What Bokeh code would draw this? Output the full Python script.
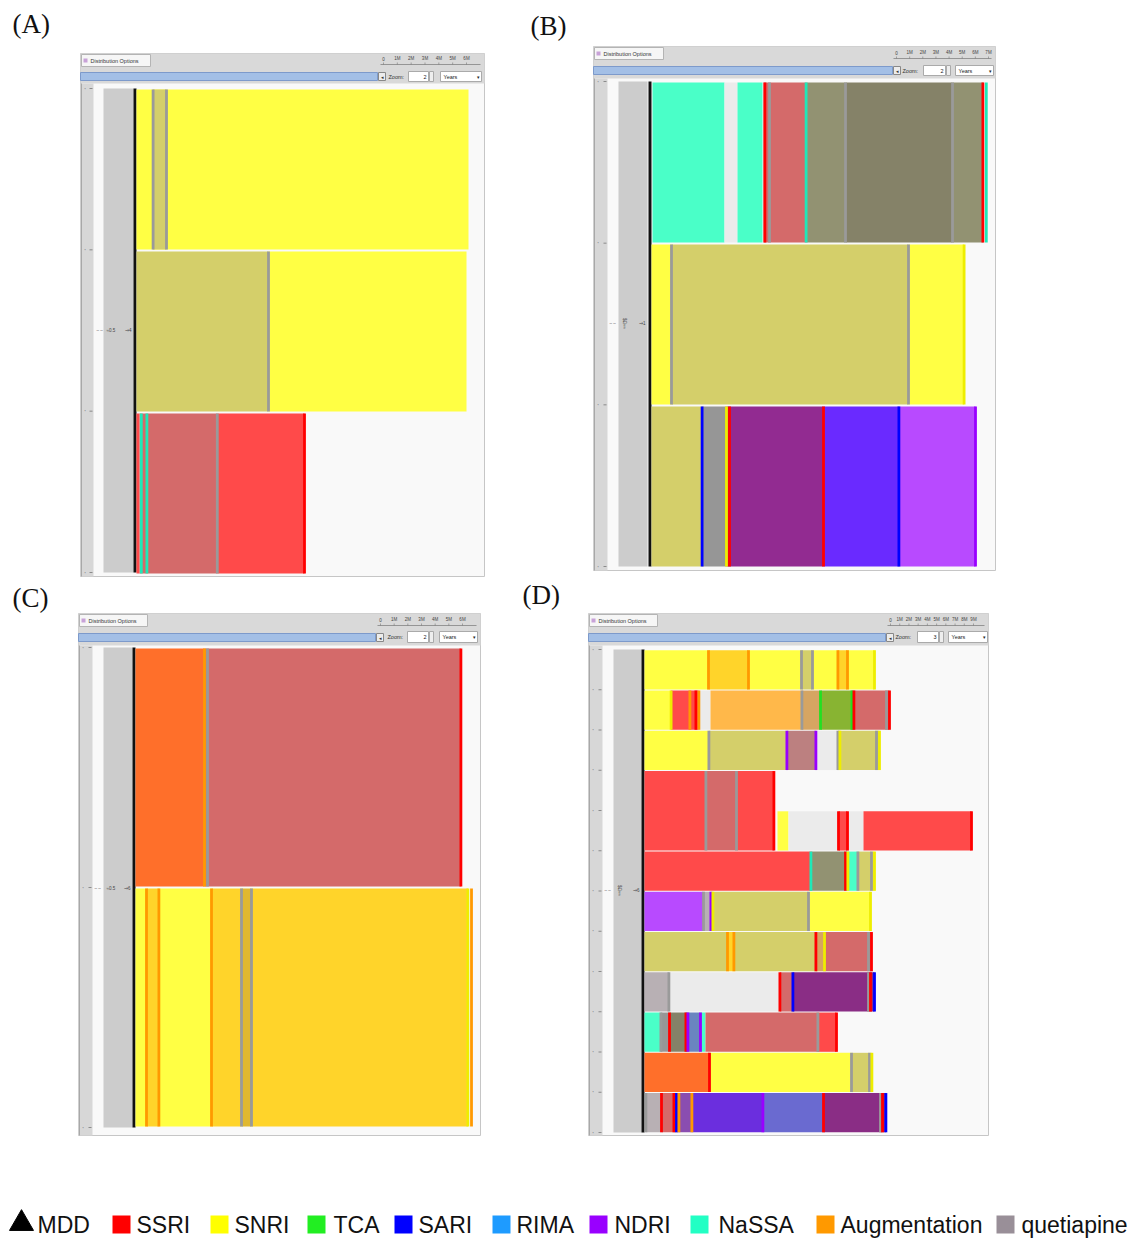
import math
from bokeh.plotting import figure
from bokeh.models import Range1d
from bokeh.layouts import column, row
from bokeh.core.properties import value
from bokeh.embed import file_html
from bokeh.resources import INLINE

# ---------------------------------------------------------------- data
# regimen -> fill colour of a treatment period
FILL = {
    "SSRI": "#ff4a4a", "SNRI": "#ffff44", "NaSSA": "#4affc8", "NDRI": "#b84aff",
    "Aug": "#ffb84a", "Q": "#b8b0b4", "none": "#ebebeb",
    "SNRI+Q": "#d4cf6a", "SSRI+Q": "#d46a6a", "NaSSA+Q": "#929272",
    "NaSSA+SSRI+Q": "#858268", "Q+other": "#969696", "SSRI+NDRI": "#922b91",
    "NDRI+SARI": "#6a2aff", "SSRI+Aug": "#ff6f2a", "SNRI+Aug": "#ffd42a",
    "SNRI+Aug+Q": "#e0b830", "Aug+Q": "#d6a562", "TCA+Aug": "#88b432",
    "SSRI+NDRI+Q": "#bc8080", "SARI+SSRI": "#8a2d85", "RIMA+Q": "#6a85c0",
    "NDRI+Q": "#8a4db0", "NDRI+SARI+Q": "#6b2ede", "SARI+Q": "#6a6ad0",
}
# drug class -> colour of switch / stop event marks
EDGE = {
    "SSRI": "#ff0000", "SNRI": "#eeee00", "TCA": "#22e022", "SARI": "#0000ff",
    "RIMA": "#1e9bff", "NDRI": "#9900ff", "NaSSA": "#1fe8b8", "Aug": "#ff9900",
    "Q": "#9a9a9a",
}

# segments: (row, start day, end day, regimen[, rows spanned])
A_SEG = [
    (0, 0, 166, "SNRI"), (0, 8.3, 15, "SNRI+Q"),
    (1, 0, 66, "SNRI+Q"), (1, 66, 165, "SNRI"),
    (2, 0, 1.5, "SSRI"), (2, 1.5, 40.4, "SSRI+Q"), (2, 40.4, 84, "SSRI"),
]
A_EVT = [  # (row, day, class)
    (0, 8.3, "Q"), (0, 15, "Q"), (1, 66, "Q"),
    (2, 2.4, "NaSSA"), (2, 5.2, "NaSSA"), (2, 40.4, "Q"), (2, 84, "SSRI"),
]

B_SEG = [
    (0, 0.5, 36.5, "NaSSA"), (0, 36.5, 43, "none"), (0, 43, 55.5, "NaSSA"),
    (0, 56, 77.3, "SSRI+Q"), (0, 77.3, 97, "NaSSA+Q"), (0, 97, 150.5, "NaSSA+SSRI+Q"),
    (0, 150.5, 166, "NaSSA+Q"),
    (1, 0, 10, "SNRI"), (1, 10, 128.5, "SNRI+Q"), (1, 128.5, 156.3, "SNRI"),
    (2, 0, 25.3, "SNRI+Q"), (2, 25.3, 37.5, "Q+other"), (2, 37.5, 86, "SSRI+NDRI"),
    (2, 86, 123.7, "NDRI+SARI"), (2, 123.7, 162, "NDRI"),
]
B_EVT = [
    (0, 56.7, "SSRI"), (0, 59, "Q"), (0, 77.3, "NaSSA"), (0, 97, "Q"), (0, 150.5, "Q"),
    (0, 165.7, "SSRI"), (0, 167.4, "NaSSA"),
    (1, 10, "Q"), (1, 128.5, "Q"), (1, 156.3, "SNRI"),
    (2, 25.3, "SARI"), (2, 37.5, "SNRI"), (2, 39, "SSRI"), (2, 86, "SSRI"),
    (2, 123.7, "SARI"), (2, 162, "NDRI"),
]

C_SEG = [
    (0, 0, 34.5, "SSRI+Aug"), (0, 34.5, 162.7, "SSRI+Q"),
    (1, 0, 5.5, "SNRI"), (1, 5.5, 11.7, "SNRI+Aug"), (1, 11.7, 38, "SNRI"),
    (1, 38, 53, "SNRI+Aug"), (1, 53, 58, "SNRI+Aug+Q"), (1, 58, 166.2, "SNRI+Aug"),
]
C_EVT = [
    (0, 34.5, "Aug"), (0, 36, "Q"), (0, 162.7, "SSRI"),
    (1, 5.5, "Aug"), (1, 11.7, "Aug"), (1, 38, "Aug"), (1, 53, "Q"), (1, 58, "Q"),
    (1, 166.2, "SNRI"), (1, 168, "Aug"),
]

D_SEG = [
    (0, 0, 32, "SNRI"), (0, 32, 52, "SNRI+Aug"), (0, 52, 78.5, "SNRI"),
    (0, 78.5, 84, "SNRI+Q"), (0, 84, 96.7, "SNRI"), (0, 96.7, 101.5, "SNRI+Aug"),
    (0, 101.5, 115, "SNRI"),
    (1, 0, 13.3, "SNRI"), (1, 13.3, 27, "SSRI"), (1, 27, 33, "none"),
    (1, 33, 78.7, "Aug"), (1, 78.7, 88, "Aug+Q"), (1, 88, 104, "TCA+Aug"),
    (1, 104, 122.5, "SSRI+Q"),
    (2, 0, 32.2, "SNRI"), (2, 32.2, 71.2, "SNRI+Q"), (2, 71.2, 85.7, "SSRI+NDRI+Q"),
    (2, 85.7, 96.7, "none"), (2, 96.7, 117.5, "SNRI+Q"),
    (3, 0, 30.7, "SSRI", 2), (3, 30.7, 46, "SSRI+Q", 2), (3, 46, 64.7, "SSRI", 2),
    (4, 66.5, 72, "SNRI"), (4, 72, 97, "none"), (4, 97, 101.5, "SSRI"),
    (4, 101.5, 109.5, "none"), (4, 109.5, 163.5, "SSRI"),
    (5, 0, 83.2, "SSRI"), (5, 83.2, 100.5, "NaSSA+Q"), (5, 100.5, 106.7, "NaSSA"),
    (5, 106.7, 113.5, "SNRI+Q"), (5, 113.5, 115, "SNRI"),
    (6, 0, 29.5, "NDRI"), (6, 29.5, 33.2, "Q"), (6, 33.2, 82, "SNRI+Q"), (6, 82, 113, "SNRI"),
    (7, 0, 41.5, "SNRI+Q"), (7, 41.5, 44.7, "SNRI+Aug"), (7, 44.7, 85.7, "SNRI+Q"),
    (7, 85.7, 90, "Aug+Q"), (7, 90, 113.5, "SSRI+Q"),
    (8, 0, 12.2, "Q"), (8, 12.2, 67.7, "none"), (8, 67.7, 74.2, "SSRI+Q"),
    (8, 74.2, 115, "SARI+SSRI"),
    (9, 0, 8.2, "NaSSA"), (9, 8.2, 12.5, "Q+other"), (9, 12.5, 20.7, "NaSSA+SSRI+Q"),
    (9, 20.7, 28, "RIMA+Q"), (9, 28, 30.5, "NaSSA"), (9, 30.5, 86.7, "SSRI+Q"),
    (9, 86.7, 96, "SSRI"),
    (10, 0, 32.5, "SSRI+Aug"), (10, 32.5, 103.5, "SNRI"), (10, 103.5, 112.5, "SNRI+Q"),
    (10, 112.5, 113.7, "SNRI"),
    (11, 0.5, 8.5, "Q"), (11, 8.5, 14.7, "SSRI+Q"), (11, 14.7, 23.7, "NDRI+Q"),
    (11, 23.7, 59.2, "NDRI+SARI+Q"), (11, 59.2, 89.5, "SARI+Q"), (11, 89.5, 120.7, "SARI+SSRI"),
]
D_EVT = [
    (0, 32, "Aug"), (0, 52, "Aug"), (0, 78.5, "Q"), (0, 84, "Q"), (0, 96.7, "Aug"),
    (0, 101.5, "Aug"), (0, 115, "SNRI"),
    (1, 13.3, "SNRI"), (1, 22.7, "Aug"), (1, 25.7, "SSRI"), (1, 27.2, "Aug"), (1, 78.7, "Q"),
    (1, 88, "TCA"), (1, 103.7, "TCA"), (1, 104.7, "SSRI"), (1, 121, "Q"), (1, 122.5, "SSRI"),
    (2, 32.2, "Q"), (2, 71.2, "NDRI"), (2, 85.7, "NDRI"), (2, 96.7, "Q"), (2, 97.7, "SNRI"),
    (2, 116, "Q"), (2, 117.5, "SNRI"),
    (3, 30.7, "Q", 2), (3, 46, "Q", 2), (3, 64.7, "SSRI", 2),
    (4, 97, "SSRI"), (4, 101.5, "SSRI"), (4, 163.5, "SSRI"),
    (5, 83.2, "NaSSA"), (5, 100.5, "SSRI"), (5, 101.7, "SNRI"), (5, 106.7, "Q"),
    (5, 113.5, "Q"), (5, 115, "SNRI"),
    (6, 29.5, "Q"), (6, 33.2, "NDRI"), (6, 34.2, "SNRI"), (6, 82, "Q"), (6, 113, "SNRI"),
    (7, 41.5, "Aug"), (7, 44.7, "Aug"), (7, 85.7, "SSRI"), (7, 90, "SNRI"), (7, 112, "Q"),
    (7, 113.5, "SSRI"),
    (8, 12.2, "Q"), (8, 67.7, "SSRI"), (8, 74.2, "SARI"), (8, 112, "Q"), (8, 113, "SSRI"),
    (8, 115, "SARI"),
    (9, 8.2, "Q"), (9, 12.5, "SSRI"), (9, 20.7, "SSRI"), (9, 21.7, "NDRI"), (9, 28, "NDRI"),
    (9, 86.7, "Q"), (9, 96, "SSRI"),
    (10, 32.5, "SSRI"), (10, 103.5, "Q"), (10, 112.5, "Q"), (10, 113.7, "SNRI"),
    (11, 0.7, "Q"), (11, 8.5, "SSRI"), (11, 14.7, "SSRI"), (11, 16, "SARI"), (11, 17.2, "Aug"),
    (11, 23.7, "Aug"), (11, 59.2, "NDRI"), (11, 89.5, "SSRI"), (11, 118, "Q"),
    (11, 119, "SSRI"), (11, 120.7, "SARI"),
]

PANEL_LETTERS = ["(A)", "(B)", "(C)", "(D)"]
ZOOM_VALUES = ["2", "2", "2", "3"]
RULER_MONTHS = [6, 7, 6, 9]
GROUP_LABELS = [("≈0.5", "⇒4"), ("$Ω≈≈", "⇒1"), ("≈0.5", "⇒6"), ("$Ω≈≈", "⇒6")]

LEGEND_NAMES = ["MDD", "SSRI", "SNRI", "TCA", "SARI", "RIMA", "NDRI", "NaSSA",
                "Augmentation", "quetiapine"]
LEGEND_COLORS = ["#000000", "#ff0000", "#ffff00", "#22ee22", "#0000ff", "#1e9bff",
                 "#9900ff", "#22ffc4", "#ff9900", "#998f98"]

# ---------------------------------------------------------------- layout (page pixels)
DAY_PX = 2.0
GEO = [
    dict(fig=(0, 0, 515, 578), frame=(80, 53, 484, 576), ctop=83, tab_r=150,
         ruler=(383, 466, 58, 64), bar=(72, 80, 377), zoom_x=388, ctl=(71, 81),
         spin=(408, 428), years=(440, 481), strip_r=93, col=(103, 133),
         rows=(88, 572), x0=136, y0=88, pitch=162, gap=1.0, letter=(12, 23),
         glabel_y=330, rotated=False),
    dict(fig=(515, 0, 617, 578), frame=(593, 46, 995, 570), ctop=78, tab_r=663,
         ruler=(896, 988, 52, 58), bar=(66, 74, 892), zoom_x=902, ctl=(65, 75),
         spin=(923, 945), years=(955, 993), strip_r=607, col=(618, 647),
         rows=(81, 566), x0=651, y0=81, pitch=162, gap=1.0, letter=(530, 25),
         glabel_y=323, rotated=True),
    dict(fig=(0, 578, 515, 567), frame=(78, 613, 480, 1135), ctop=645, tab_r=147,
         ruler=(380, 462, 619, 625), bar=(633, 641, 375), zoom_x=387, ctl=(631, 642),
         spin=(407, 428), years=(439, 477), strip_r=92, col=(103, 132),
         rows=(647, 1127), x0=135, y0=647, pitch=240, gap=1.0, letter=(12, 597),
         glabel_y=888, rotated=False),
    dict(fig=(515, 578, 617, 567), frame=(588, 613, 988, 1135), ctop=645, tab_r=657,
         ruler=(890, 973, 619, 625), bar=(633, 641, 885), zoom_x=895, ctl=(631, 642),
         spin=(917, 938), years=(948, 987), strip_r=602, col=(613, 641),
         rows=(649, 1132), x0=644, y0=649.3, pitch=40.25, gap=0.5, letter=(522, 594),
         glabel_y=890, rotated=True),
]
LEGEND_FIG = (0, 1145, 1132, 93)
LEGEND_MARK_X = [21, 121, 219, 316, 403, 501, 598, 699, 825, 1005]
LEGEND_TEXT_X = [37, 136, 234, 333, 418, 516, 614, 718, 840, 1021]
LEGEND_Y = 1224

SANS = "Liberation Sans"


def make_panel(i, segs, evts):
    g = GEO[i]
    fx, fy, W, H = g["fig"]
    X0, Y0, pitch = g["x0"], g["y0"], g["pitch"]

    def px(v):
        return (v - X0) / DAY_PX

    def py(v):
        return (v - Y0) / pitch

    p = figure(width=W, height=H, x_range=Range1d(px(fx), px(fx + W)),
               y_range=Range1d(py(fy + H), py(fy)), output_backend="svg",
               toolbar_location=None, x_axis_location=None, y_axis_location=None,
               min_border=0, outline_line_color=None, background_fill_color="white",
               border_fill_color="white")
    p.xgrid.visible = False
    p.ygrid.visible = False

    def box(l, t, r, b, fill, line=None, lw=1.0):
        p.quad(left=[px(l)], right=[px(r)], top=[py(t)], bottom=[py(b)],
               fill_color=fill, line_color=line, line_width=lw)

    def txt(x, y, s, size, color="#333333", align="left", font=SANS, angle=0.0):
        p.text(x=[px(x)], y=[py(y)], text=[s], text_font=value(font),
               text_font_size=f"{size}px", text_color=color, text_align=align,
               text_baseline="middle", angle=angle)

    L, T, R, B = g["frame"]
    # window chrome
    box(L, T, R, B, "#f9f9f9", "#c6c6c6")
    box(L, T, R, g["ctop"], "#d9d9d9", None)
    box(L + 1, T + 1, g["tab_r"], T + 13, "#f6f6f6", "#b4b4b4")
    box(L + 3, T + 5, L + 7, T + 9, "#c8a2d8", None)
    txt(L + 10, T + 7, "Distribution Options", 5.5)
    rl, rr, ry, rline = g["ruler"]
    n = RULER_MONTHS[i]
    for k in range(n + 1):
        xk = rl + (rr - rl) * k / n
        txt(xk, ry, "0" if k == 0 else f"{k}M", 4.5, "#444444", "center")
        p.segment(x0=[px(xk)], y0=[py(rline - 2)], x1=[px(xk)], y1=[py(rline)],
                  line_color="#777777", line_width=0.6)
    p.segment(x0=[px(rl - 3)], y0=[py(rline)], x1=[px(R - 4)], y1=[py(rline)],
              line_color="#777777", line_width=0.7)
    bt, bb, br = g["bar"]
    box(L, bt, br, bb, "#a3bfe6", "#7d9acb")
    box(br + 1, bt, br + 8, bb, "#ececec", "#888888")
    txt(br + 4.5, (bt + bb) / 2, "◂", 5, "#333333", "center")
    ct, cb = g["ctl"]
    txt(g["zoom_x"], (ct + cb) / 2, "Zoom:", 5.5)
    s0, s1 = g["spin"]
    box(s0, ct, s1, cb, "#ffffff", "#aaaaaa")
    txt(s1 - 2, (ct + cb) / 2, ZOOM_VALUES[i], 5.5, "#222222", "right")
    box(s1 + 1, ct, s1 + 5, cb, "#eeeeee", "#aaaaaa")
    y0_, y1_ = g["years"]
    box(y0_, ct, y1_, cb, "#ffffff", "#aaaaaa")
    txt(y0_ + 3, (ct + cb) / 2, "Years", 5.5, "#222222")
    txt(y1_ - 3, (ct + cb) / 2, "▾", 5, "#222222", "center")

    # left strip, group column and timeline origin
    r0, r1 = g["rows"]
    box(L, g["ctop"], g["strip_r"], B, "#d7d7d7", None)
    p.segment(x0=[px(L + 1)], y0=[py(g["ctop"])], x1=[px(L + 1)], y1=[py(B)],
              line_color="#a8a8a8", line_width=1)
    nrows = max(s[0] + (s[4] if len(s) > 4 else 1) for s in segs)
    for k in range(nrows + 1):
        yk = r0 + (r1 - r0) * k / nrows
        p.segment(x0=[px(g["strip_r"] - 4)], y0=[py(yk)], x1=[px(g["strip_r"] - 1)],
                  y1=[py(yk)], line_color="#777777", line_width=0.8)
        txt(L + 4, yk, "▪", 3.5, "#777777")
    c0, c1 = g["col"]
    box(c0, r0, c1, r1, "#cccccc", None)
    box(X0 - 3, r0, X0, r1, "#111111", None)
    gy = g["glabel_y"]
    glab, gcount = GROUP_LABELS[i]
    txt(L + 16, gy, "– –", 4.5, "#555555")
    if g["rotated"]:
        txt(c0 + 6, gy, glab, 4.5, "#444444", "center", angle=-math.pi / 2)
    else:
        txt(c0 + 3, gy, glab, 4.5, "#444444")
    txt(c1 - 2, gy, gcount, 4.5, "#444444", "right")

    # treatment periods
    gap = g["gap"] / pitch
    ql, qr, qt, qb, qc = [], [], [], [], []
    for s in segs:
        r, a, b, reg = s[:4]
        span = s[4] if len(s) > 4 else 1
        ql.append(a)
        qr.append(b)
        qt.append(r + gap)
        qb.append(r + span - gap)
        qc.append(FILL[reg])
    p.quad(left=ql, right=qr, top=qt, bottom=qb, fill_color=qc, line_color=None)

    # switch / stop events
    ex, ey0, ey1, ec = [], [], [], []
    for e in evts:
        r, d, cls = e[:3]
        span = e[3] if len(e) > 3 else 1
        ex.append(d)
        ey0.append(r + gap)
        ey1.append(r + span - gap)
        ec.append(EDGE[cls])
    p.segment(x0=ex, y0=ey0, x1=ex, y1=ey1, line_color=ec, line_width=2.8)

    # panel letter
    lx, ly = g["letter"]
    txt(lx, ly, PANEL_LETTERS[i], 27, "#111111", font="Liberation Serif")
    return p


pA = make_panel(0, A_SEG, A_EVT)
pB = make_panel(1, B_SEG, B_EVT)
pC = make_panel(2, C_SEG, C_EVT)
pD = make_panel(3, D_SEG, D_EVT)

lx0, ly0, LW, LH = LEGEND_FIG
leg = figure(width=LW, height=LH, x_range=Range1d(lx0, lx0 + LW),
             y_range=Range1d(ly0 + LH, ly0), output_backend="svg",
             toolbar_location=None, x_axis_location=None, y_axis_location=None,
             min_border=0, outline_line_color=None, border_fill_color="white")
leg.xgrid.visible = False
leg.ygrid.visible = False
leg.scatter(x=LEGEND_MARK_X[:1], y=[LEGEND_Y - 1], marker="triangle", size=24,
            fill_color=LEGEND_COLORS[0], line_color=LEGEND_COLORS[0])
leg.scatter(x=LEGEND_MARK_X[1:], y=[LEGEND_Y] * (len(LEGEND_NAMES) - 1),
            marker="square", size=18, fill_color=LEGEND_COLORS[1:], line_color=None)
leg.text(x=LEGEND_TEXT_X, y=[LEGEND_Y + 0.5] * len(LEGEND_NAMES), text=LEGEND_NAMES,
         text_font=value("Liberation Sans"), text_font_size="23px",
         text_color="#111111", text_baseline="middle", text_align="left")

layout = column(row(pA, pB), row(pC, pD), leg)
open("out.html", "w").write(file_html(layout, INLINE))
